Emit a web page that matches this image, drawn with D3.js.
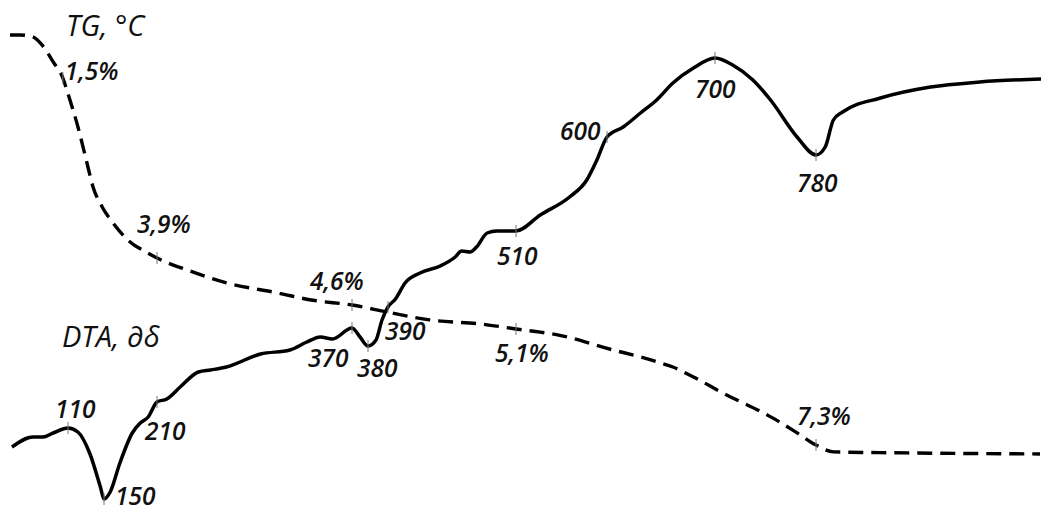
<!DOCTYPE html>
<html>
<head>
<meta charset="utf-8">
<script src="https://cdn.jsdelivr.net/npm/d3@7"></script>
<style>
  html, body { margin: 0; padding: 0; background: #fff; }
  svg { display: block; }
  .lbl { font-family: "Open Sans", "Noto Sans", sans-serif; font-style: italic; font-weight: 600; font-size: 24.5px; fill: #111; }
  .ttl { font-family: "Open Sans", "Noto Sans", sans-serif; font-style: italic; font-weight: 400; font-size: 29px; fill: #111; }
</style>
</head>
<body>
<svg id="chart" width="1041" height="513"></svg>
<script>
// Temperature, °C (x of every series)
const tgTemp = [20, 36, 56, 71, 87, 102, 110, 121, 131, 138, 148, 160, 177, 199, 210, 235, 267, 309, 338, 370, 390, 429, 479, 510, 534, 551, 606, 631, 649, 661, 680, 706, 746, 765, 780, 797, 869, 999];
// Mass loss, %
const tgLoss = [0, 0, 0.07, 0.38, 0.94, 1.5, 1.71, 2.15, 2.63, 2.96, 3.22, 3.43, 3.66, 3.83, 3.9, 4.08, 4.27, 4.42, 4.53, 4.6, 4.75, 4.91, 5.0, 5.1, 5.16, 5.21, 5.50, 5.63, 5.74, 5.82, 6.01, 6.31, 6.79, 7.07, 7.3, 7.43, 7.45, 7.47];

const dtaTemp = [23, 56, 71, 87, 110, 121, 134, 146, 150, 157, 168, 182, 191, 200, 210, 218, 229, 244, 254, 267, 295, 319, 333, 344, 354, 370, 375, 380, 384, 387, 390, 397, 406, 420, 439, 453, 459, 467, 473, 483, 492, 510, 534, 563, 580, 590, 600, 615, 631, 646, 661, 680, 700, 714, 730, 744, 765, 780, 789, 797, 806, 843, 892, 940, 1000];
// DTA signal, arbitrary units
const dtaSignal = [12.6, 14.6, 14.6, 15.4, 16.4, 15.6, 11.4, 4.6, 2.2, 3.6, 9.4, 15.4, 17.4, 18.6, 21.6, 22.2, 24.6, 27.6, 28.0, 28.6, 31.2, 32.0, 33.6, 34.6, 34.2, 36.4, 34.6, 32.8, 34.0, 38.0, 40.6, 42.2, 45.4, 47.4, 48.8, 50.6, 51.8, 51.6, 52.6, 55.4, 55.8, 55.8, 59.0, 62.6, 66.0, 70.0, 74.6, 76.6, 79.4, 82.0, 85.4, 88.4, 90.4, 89.0, 86.0, 82.0, 74.6, 71.0, 72.6, 78.0, 79.6, 82.4, 84.6, 85.6, 86.2];

// Annotated points
const dtaMarkTemps = [110, 150, 210, 370, 380, 390, 510, 600, 700, 780];
const tgMarkTemps = [102, 210, 370, 510, 780];
const tgMarkLoss = [1.5, 3.9, 4.6, 5.1, 7.3];

// Label offsets from their tick (layout only)
const dtaLabelOffset = [[-13, -10], [11, 6], [-12, 38], [-44, 39], [-11, 31], [-3, 33], [-19, 34], [-47, 3], [-20, 40], [-19, 37]];
const tgLabelOffset = [[2, 2], [-20, -25], [-42, -15], [-21, 33], [-19, -20]];

const svg = d3.select("#chart");

// Non-uniform temperature axis (heating-rate dependent)
const x = d3.scaleLinear()
  .domain([20, 110, 150, 210, 370, 380, 390, 510, 600, 700, 780, 1000])
  .range([10, 68, 104, 157, 352, 368, 388, 516, 607, 715, 816, 1041]);

const yTG = d3.scaleLinear()
  .domain([0, 1.5, 3.9, 4.6, 5.1, 7.3])
  .range([35, 78, 258, 305, 329, 445]);

const yDTA = d3.scaleLinear().domain([0, 100]).range([510, 10]);

const tgData = tgTemp.map((t, i) => ({ t, v: tgLoss[i] }));
const dtaData = dtaTemp.map((t, i) => ({ t, v: dtaSignal[i] }));

const tgLine = d3.line().x(d => x(d.t)).y(d => yTG(d.v)).curve(d3.curveMonotoneX);
const dtaLine = d3.line().x(d => x(d.t)).y(d => yDTA(d.v)).curve(d3.curveMonotoneX);

// TG curve (dashed)
svg.append("path")
  .datum(tgData)
  .attr("d", tgLine)
  .attr("fill", "none")
  .attr("stroke", "#000")
  .attr("stroke-width", 3.4)
  .attr("stroke-dasharray", "15,8");

// DTA curve (solid)
svg.append("path")
  .datum(dtaData)
  .attr("d", dtaLine)
  .attr("fill", "none")
  .attr("stroke", "#000")
  .attr("stroke-width", 3.5)
  .attr("stroke-linejoin", "round");

// DTA ticks and temperature labels
const dtaMarks = dtaMarkTemps.map((t, i) => ({
  t, v: dtaSignal[dtaTemp.indexOf(t)], off: dtaLabelOffset[i]
}));
svg.append("g").selectAll("line").data(dtaMarks).join("line")
  .attr("x1", d => x(d.t)).attr("x2", d => x(d.t))
  .attr("y1", d => yDTA(d.v) - 6).attr("y2", d => yDTA(d.v) + 6)
  .attr("stroke", "#777").attr("stroke-width", 1);
svg.append("g").selectAll("text").data(dtaMarks).join("text")
  .attr("class", "lbl")
  .attr("x", d => x(d.t) + d.off[0])
  .attr("y", d => yDTA(d.v) + d.off[1])
  .text(d => d.t);

// TG ticks and mass-loss labels
const tgMarks = tgMarkTemps.map((t, i) => ({ t, v: tgMarkLoss[i], off: tgLabelOffset[i] }));
svg.append("g").selectAll("line").data(tgMarks).join("line")
  .attr("x1", d => x(d.t)).attr("x2", d => x(d.t))
  .attr("y1", d => yTG(d.v) - 6).attr("y2", d => yTG(d.v) + 6)
  .attr("stroke", "#777").attr("stroke-width", 1);
svg.append("g").selectAll("text").data(tgMarks).join("text")
  .attr("class", "lbl")
  .attr("x", d => x(d.t) + d.off[0])
  .attr("y", d => yTG(d.v) + d.off[1])
  .text(d => String(d.v).replace(".", ",") + "%");

// Curve titles
svg.append("text").attr("class", "ttl").attr("x", 66).attr("y", 36).text("TG, °C");
svg.append("text").attr("class", "ttl").attr("x", 62).attr("y", 347).text("DTA, ∂δ");
</script>
</body>
</html>
